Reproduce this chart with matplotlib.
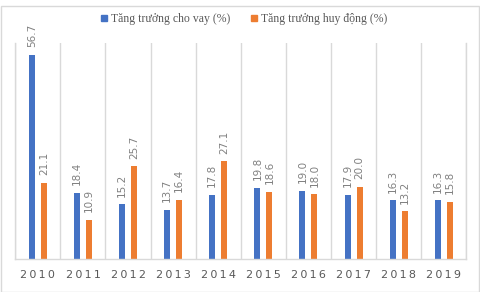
import matplotlib
matplotlib.use("Agg")
import matplotlib.pyplot as plt
from matplotlib.lines import Line2D
from matplotlib.patches import Rectangle
import numpy as np

years = ["2010", "2011", "2012", "2013", "2014", "2015", "2016", "2017", "2018", "2019"]
loan_growth = [56.7, 18.4, 15.2, 13.7, 17.8, 19.8, 19.0, 17.9, 16.3, 16.3]
deposit_growth = [21.1, 10.9, 25.7, 16.4, 27.1, 18.6, 18.0, 20.0, 13.2, 15.8]
series_names = ["Tăng trưởng cho vay (%)", "Tăng trưởng huy động (%)"]

blue = "#4472C4"
orange = "#ED7D31"
grid_c = "#D9D9D9"
label_c = "#808080"

W, H = 481, 292
fig = plt.figure(figsize=(W / 100, H / 100), dpi=100)
fig.patches.append(Rectangle((0.5 / W, 0.5 / H), 1 - 2 / W, 1 - 6 / H, transform=fig.transFigure,
                             fill=False, edgecolor=grid_c, linewidth=1.0))

ax = fig.add_axes([15.3 / W, (H - 259) / H, 451 / W, 216 / H])
x = np.arange(len(years))
bw = 0.133
b1 = ax.bar(x - bw, loan_growth, bw, color=blue)
b2 = ax.bar(x + bw, deposit_growth, bw, color=orange)

for bars, vals in ((b1, loan_growth), (b2, deposit_growth)):
    for r, v in zip(bars, vals):
        ax.annotate(f"{v:.1f}", (r.get_x() + r.get_width() / 2, r.get_height()),
                    xytext=(0, 5.5), textcoords="offset points", rotation=90,
                    ha="center", va="bottom", fontsize=7.5, color=label_c)

ax.set_xlim(-0.5, len(years) - 0.5)
ax.set_ylim(0, 60)
ax.set_yticks([])
ax.set_xticks(x)
ax.set_xticklabels(["\u2009".join(y) for y in years], fontsize=8, color="#595959")
ax.tick_params(axis="x", length=0, pad=8)
ax.set_xticks(np.arange(len(years) + 1) - 0.5, minor=True)
ax.tick_params(axis="x", which="minor", length=0)
ax.grid(True, which="minor", axis="x", color=grid_c, linewidth=1.0)
ax.set_axisbelow(True)
ax.spines["top"].set_visible(False)
for s in ("left", "right", "bottom"):
    ax.spines[s].set_color(grid_c)
    ax.spines[s].set_linewidth(1.0)

handles = [Line2D([], [], marker="s", linestyle="none", markersize=4.5, color=blue),
           Line2D([], [], marker="s", linestyle="none", markersize=4.5, color=orange)]
fig.legend(handles, series_names, loc="center", bbox_to_anchor=(244 / W, 1 - 19 / H), ncol=2,
           frameon=False, prop={"family": "Liberation Serif", "size": 8.5},
           labelcolor="#595959", handlelength=0.5, handletextpad=0.35, columnspacing=1.8)

fig.savefig("out.png", dpi=100)
